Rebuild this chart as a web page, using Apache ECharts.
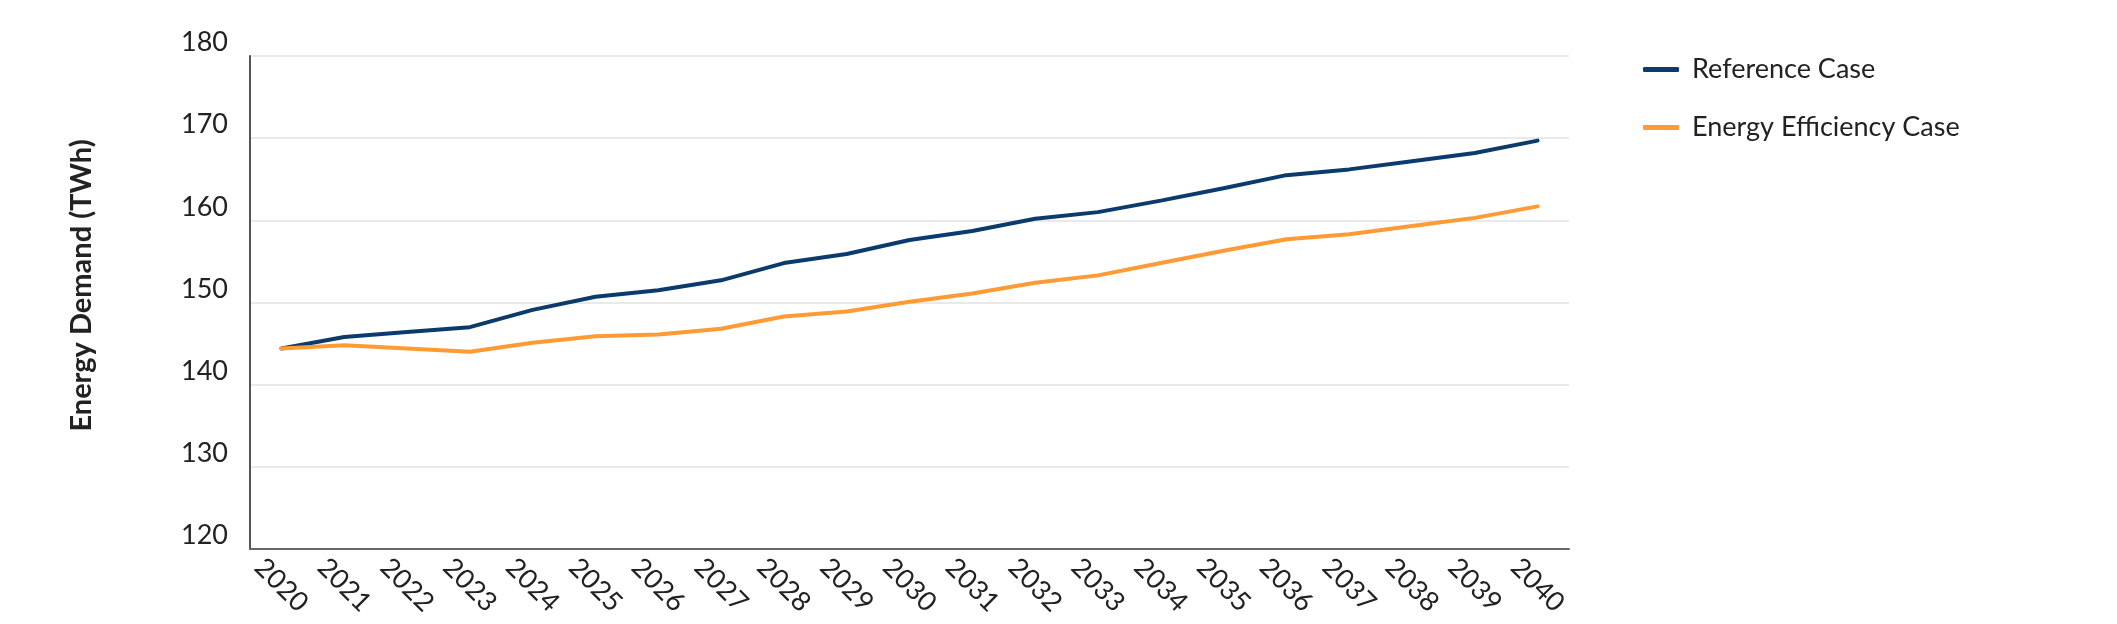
<!DOCTYPE html>
<html>
<head>
<meta charset="utf-8">
<script src="https://cdn.jsdelivr.net/npm/echarts@6/dist/echarts.min.js"></script>
<style>
  html, body { margin: 0; padding: 0; background: #fff; }
  #main { width: 2117px; height: 624px; }
</style>
</head>
<body>
<div id="main"></div>
<script>
// years along the x axis
var years = ['2020', '2021', '2022', '2023', '2024', '2025', '2026', '2027', '2028', '2029', '2030',
  '2031', '2032', '2033', '2034', '2035', '2036', '2037', '2038', '2039', '2040'];

// energy demand, TWh
var referenceCase = [144.4, 145.8, 146.4, 147.0, 149.1, 150.7, 151.5, 152.7, 154.8, 155.9, 157.6,
  158.7, 160.2, 161.0, 162.4, 163.9, 165.5, 166.2, 167.2, 168.2, 169.7];
var efficiencyCase = [144.4, 144.8, 144.4, 144.0, 145.1, 145.9, 146.1, 146.8, 148.3, 148.9, 150.1,
  151.1, 152.4, 153.3, 154.8, 156.3, 157.7, 158.3, 159.3, 160.3, 161.7];

var seriesNames = ['Reference Case', 'Energy Efficiency Case'];
var seriesColors = ['#0b3a6d', '#ff9a35'];

var font = 'Lato, "Open Sans", sans-serif';

var chart = echarts.init(document.getElementById('main'));

chart.setOption({
  animation: false,
  textStyle: { fontFamily: font },
  grid: { left: 250, right: 548, top: 56, bottom: 75 },
  legend: {
    orient: 'vertical',
    left: 1638,
    top: 51,
    itemWidth: 36,
    itemHeight: 5,
    itemGap: 31,
    icon: 'roundRect',
    textStyle: { fontSize: 27, color: '#222', padding: [0, 0, 0, 8] },
    data: seriesNames
  },
  xAxis: {
    type: 'category',
    data: years,
    boundaryGap: true,
    axisLine: { lineStyle: { color: '#666', width: 2 } },
    axisTick: { inside: true, length: 12, interval: 0, lineStyle: { color: '#555', width: 1 } },
    axisLabel: {
      interval: 0,
      rotate: -45,
      align: 'center',
      verticalAlign: 'middle',
      margin: 36,
      fontSize: 27,
      color: '#222'
    }
  },
  yAxis: {
    type: 'value',
    min: 120,
    max: 180,
    interval: 10,
    name: 'Energy Demand (TWh)',
    nameLocation: 'middle',
    nameGap: 154,
    nameTextStyle: { fontSize: 29, fontWeight: 'bold', color: '#222', padding: [0, 0, 0, 34] },
    axisLine: { show: true, lineStyle: { color: '#555', width: 2 } },
    axisTick: { show: false },
    axisLabel: { fontSize: 27, color: '#222', margin: 22, verticalAlign: 'bottom' },
    splitLine: { lineStyle: { color: '#e2e2e2', width: 1.5 } }
  },
  series: [
    {
      name: seriesNames[0],
      type: 'line',
      data: referenceCase,
      symbol: 'none',
      color: seriesColors[0],
      lineStyle: { width: 4, cap: 'round' }
    },
    {
      name: seriesNames[1],
      type: 'line',
      data: efficiencyCase,
      symbol: 'none',
      color: seriesColors[1],
      lineStyle: { width: 4, cap: 'round' }
    }
  ]
});
</script>
</body>
</html>
